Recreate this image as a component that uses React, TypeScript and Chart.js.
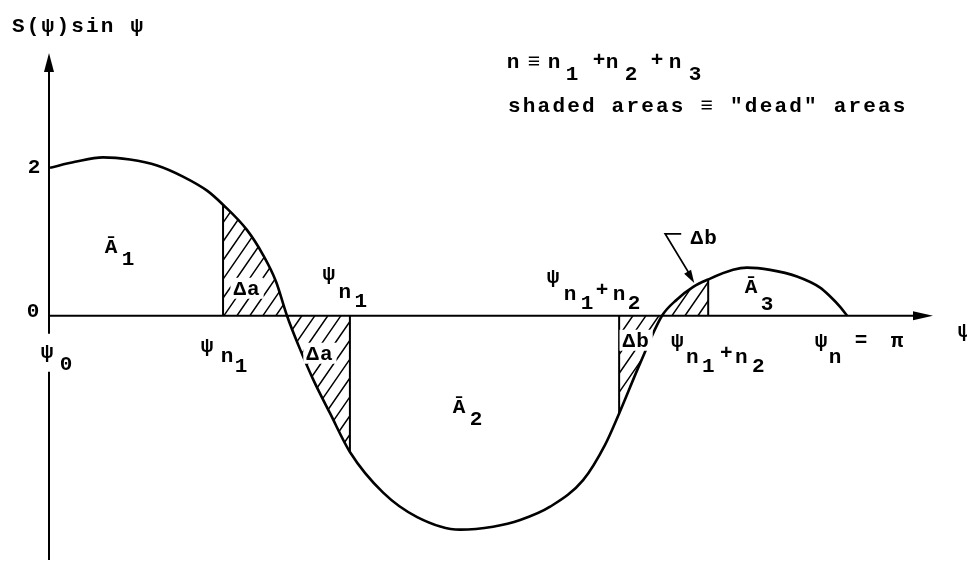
import { useEffect, useRef } from "react";
import { Chart, registerables } from "chart.js";

Chart.register(...registerables);

// Curve samples: ψ (rad) and S(ψ)·sin ψ
const PSI: number[] = [
  0, 0.099, 0.209, 0.315, 0.422, 0.524, 0.619, 0.682, 0.776, 0.84, 0.891,
  0.934, 0.978, 1.037, 1.104, 1.182, 1.313, 1.447, 1.616, 1.746, 1.853, 1.971,
  2.101, 2.188, 2.243, 2.326, 2.412, 2.471, 2.535, 2.594, 2.692, 2.747, 2.838,
  2.944, 3.035, 3.075, 3.114, 3.1416,
];
const S_SIN: number[] = [
  2.0, 2.08, 2.14, 2.11, 2.03, 1.88, 1.69, 1.5, 1.16, 0.82, 0.46,
  0.0, -0.39, -0.86, -1.32, -1.84, -2.39, -2.72, -2.89, -2.85, -2.76, -2.58,
  -2.22, -1.74, -1.32, -0.64, 0.0, 0.22, 0.39, 0.49, 0.62, 0.65, 0.62,
  0.53, 0.38, 0.26, 0.12, 0.0,
];

// Boundaries of the shaded "dead" areas
const PSI_N1_LOW = 0.682; // ψ_{n1}
const PSI_N1_HIGH = 1.182;
const PSI_N12_LOW = 2.243;
const PSI_N12_HIGH = 2.594; // ψ_{n1+n2}
const PSI_END = 3.1416; // ψ_n = π
const PSI_ARROW = 2.535; // where the Δb leader touches the curve
const DEAD_ZONES: [number, number][] = [
  [PSI_N1_LOW, PSI_N1_HIGH],
  [PSI_N12_LOW, PSI_N12_HIGH],
];
const EDGES = [PSI_N1_LOW, PSI_N1_HIGH, PSI_N12_LOW, PSI_N12_HIGH];
const Y_TICKS = ["0", "2"];

// Axis extents
const X_AXIS_END = 3.48;
const Y_MAX = 3.55;
const Y_MIN = -3.3;

const FONT = 'bold 21px "Liberation Mono", "DejaVu Sans Mono", monospace';
const SPACING = "2.2px";
const HATCH_STEP = 13;
const HATCH_SLOPE = 1.45;

const valueAt = (psi: number) => S_SIN[PSI.indexOf(psi)];

type Piece = [string, number, number];

function pieces(ctx: CanvasRenderingContext2D, ax: number, ay: number, list: Piece[]) {
  ctx.textAlign = "center";
  ctx.textBaseline = "alphabetic";
  for (const [t, dx, dy] of list) ctx.fillText(t, ax + dx, ay + dy);
}

// text drawn on a white patch so hatching stops around it
function boxed(ctx: CanvasRenderingContext2D, t: string, cx: number, base: number) {
  const w = ctx.measureText(t).width;
  ctx.save();
  ctx.fillStyle = "#fff";
  ctx.fillRect(cx - w / 2 - 3, base - 17, w + 6, 21);
  ctx.restore();
  ctx.textAlign = "center";
  ctx.textBaseline = "alphabetic";
  ctx.fillText(t, cx, base);
}

function arrowHead(
  ctx: CanvasRenderingContext2D,
  tx: number,
  ty: number,
  dx: number,
  dy: number,
  len: number,
  half: number
) {
  const n = Math.hypot(dx, dy);
  const ux = dx / n;
  const uy = dy / n;
  const bx = tx - ux * len;
  const by = ty - uy * len;
  ctx.beginPath();
  ctx.moveTo(tx, ty);
  ctx.lineTo(bx - uy * half, by + ux * half);
  ctx.lineTo(bx + uy * half, by - ux * half);
  ctx.closePath();
  ctx.fill();
}

const diagramPlugin = {
  id: "diagram",
  afterDatasetsDraw(chart: any) {
    const { ctx, chartArea } = chart;
    const xs = chart.scales.x;
    const ys = chart.scales.y;
    const meta = chart.getDatasetMeta(0);
    meta.dataset.updateControlPoints(chartArea, "x");
    const pts = meta.data as any[];
    const x0 = xs.getPixelForValue(0);
    const y0 = ys.getPixelForValue(0);
    const xp = (v: number) => xs.getPixelForValue(v);

    // hatching of the dead areas, clipped to curve and ψ axis
    for (const [a, b] of DEAD_ZONES) {
      const ia = PSI.indexOf(a);
      const ib = PSI.indexOf(b);
      ctx.save();
      ctx.beginPath();
      ctx.moveTo(pts[ia].x, pts[ia].y);
      for (let i = ia + 1; i <= ib; i++) {
        const p = pts[i - 1];
        const q = pts[i];
        ctx.bezierCurveTo(p.cp2x ?? p.x, p.cp2y ?? p.y, q.cp1x ?? q.x, q.cp1y ?? q.y, q.x, q.y);
      }
      ctx.lineTo(pts[ib].x, y0);
      ctx.lineTo(pts[ia].x, y0);
      ctx.closePath();
      ctx.clip();
      const top = chartArea.top;
      const bottom = chartArea.bottom;
      const run = (bottom - top) / HATCH_SLOPE;
      ctx.beginPath();
      for (let x = pts[ia].x - run; x <= pts[ib].x + run; x += HATCH_STEP) {
        ctx.moveTo(x, bottom);
        ctx.lineTo(x + run, top);
      }
      ctx.lineWidth = 1.5;
      ctx.strokeStyle = "#000";
      ctx.stroke();
      ctx.restore();
    }

    ctx.save();
    ctx.strokeStyle = "#000";
    ctx.fillStyle = "#000";
    ctx.lineWidth = 2;

    // vertical axis with arrow
    ctx.beginPath();
    ctx.moveTo(x0 - 1, chartArea.bottom);
    ctx.lineTo(x0 - 1, chartArea.top + 12);
    ctx.stroke();
    arrowHead(ctx, x0 - 1, chartArea.top, 0, -1, 19, 5);

    // horizontal ψ axis with arrow
    const xEnd = xp(X_AXIS_END);
    ctx.beginPath();
    ctx.moveTo(x0 - 1, y0);
    ctx.lineTo(xEnd - 12, y0);
    ctx.stroke();
    arrowHead(ctx, xEnd, y0, 1, 0, 20, 4.5);

    // gap in the vertical axis behind ψ0
    ctx.fillStyle = "#fff";
    ctx.fillRect(x0 - 7, y0 + 18, 12, 38);
    ctx.fillStyle = "#000";

    ctx.font = FONT;

    // axis title
    ctx.letterSpacing = SPACING;
    ctx.textAlign = "left";
    ctx.textBaseline = "alphabetic";
    ctx.fillText("S(ψ)sin ψ", x0 - 38, chartArea.top - 21);

    // definitions
    const nx = x0 + 458;
    const ny = chartArea.top + 15;
    ctx.fillText('shaded areas ≡ "dead" areas', nx, chartArea.top + 59);
    ctx.letterSpacing = "0px";
    pieces(ctx, nx, ny, [
      ["n", 5, 0],
      ["≡", 26, 0],
      ["n", 46, 0],
      ["1", 64, 12],
      ["+", 91, -2],
      ["n", 104, 0],
      ["2", 123, 12],
      ["+", 149, -2],
      ["n", 167, 0],
      ["3", 187, 12],
    ]);

    // tick labels
    ctx.textBaseline = "middle";
    ctx.textAlign = "center";
    ctx.fillText(Y_TICKS[1], x0 - 16, ys.getPixelForValue(2));
    ctx.fillText(Y_TICKS[0], x0 - 17, y0 - 4);

    // ψ0
    pieces(ctx, x0, y0, [
      ["ψ", -3, 42],
      ["0", 16, 54],
    ]);

    // ψn1 below the axis
    pieces(ctx, xp(PSI_N1_LOW), y0, [
      ["ψ", -16, 36],
      ["n", 4, 46],
      ["1", 18, 56],
    ]);
    // ψn1 above the axis
    pieces(ctx, xp(PSI_N1_HIGH), y0, [
      ["ψ", -21, -36],
      ["n", -5, -18],
      ["1", 11, -9],
    ]);

    // Δa / Δb labels inside the hatching
    ctx.letterSpacing = "1px";
    boxed(ctx, "Δa", xp(PSI_N1_LOW) + 24, y0 - 21);
    boxed(ctx, "Δa", xp(PSI_N1_HIGH) - 30, y0 + 44);
    boxed(ctx, "Δb", xp(PSI_N12_LOW) + 17, y0 + 31);
    ctx.letterSpacing = "0px";

    // Ā areas
    pieces(ctx, x0, y0, [
      ["Ā", 61, -63],
      ["1", 78, -51],
      ["Ā", 409, 97],
      ["2", 426, 109],
      ["Ā", 701, -23],
      ["3", 717, -6],
    ]);

    // ψ_{n1+n2} above and below the axis
    pieces(ctx, xp(PSI_N12_LOW), y0, [
      ["ψ", -66, -33],
      ["n", -49, -16],
      ["1", -32, -7],
      ["+", -17, -20],
      ["n", 0, -16],
      ["2", 15, -7],
    ]);
    pieces(ctx, xp(PSI_N12_HIGH), y0, [
      ["ψ", -31, 31],
      ["n", -16, 47],
      ["1", 0, 56],
      ["+", 18, 43],
      ["n", 33, 47],
      ["2", 50, 56],
    ]);

    // ψn = π
    pieces(ctx, xp(PSI_END), y0, [
      ["ψ", -26, 31],
      ["n", -12, 47],
      ["=", 14, 30],
      ["π", 50, 31],
    ]);

    // ψ axis name
    pieces(ctx, xEnd, y0, [["ψ", 31, 21]]);

    // Δb leader arrow
    const target = pts[PSI.indexOf(PSI_ARROW)];
    const tx = target.x + 1;
    const ty = target.y - 4;
    const sx = tx - 29;
    const sy = ty - 49;
    ctx.lineWidth = 1.8;
    ctx.beginPath();
    ctx.moveTo(sx + 16, sy);
    ctx.lineTo(sx, sy);
    ctx.lineTo(tx - 3, ty - 6);
    ctx.stroke();
    arrowHead(ctx, tx, ty, 29, 49, 13, 4);
    ctx.letterSpacing = "1px";
    pieces(ctx, sx, sy, [["Δb", 39, 10]]);
    ctx.restore();
  },
};

export default function App() {
  const canvasRef = useRef<HTMLCanvasElement | null>(null);

  useEffect(() => {
    const canvas = canvasRef.current;
    if (!canvas) return;

    const curve = PSI.map((x, i) => ({ x, y: S_SIN[i] }));
    const edgeSets = EDGES.map((psi) => ({
      data: [
        { x: psi, y: 0 },
        { x: psi, y: valueAt(psi) },
      ],
      borderColor: "#000",
      borderWidth: 2,
      pointRadius: 0,
      tension: 0,
      fill: false,
    }));

    const chart = new Chart(canvas, {
      type: "line",
      data: {
        datasets: [
          {
            data: curve,
            borderColor: "#000",
            borderWidth: 2.6,
            pointRadius: 0,
            cubicInterpolationMode: "monotone",
            fill: false,
          },
          ...edgeSets,
        ] as any,
      },
      options: {
        responsive: false,
        animation: false,
        devicePixelRatio: 1,
        events: [],
        layout: {
          autoPadding: false,
          padding: { left: 50, right: 34, top: 53, bottom: 2 },
        },
        scales: {
          x: { type: "linear", min: 0, max: X_AXIS_END, display: false },
          y: { type: "linear", min: Y_MIN, max: Y_MAX, display: false },
        },
        plugins: {
          legend: { display: false },
          tooltip: { enabled: false },
        },
      },
      plugins: [diagramPlugin],
    });

    return () => chart.destroy();
  }, []);

  return (
    <div
      style={{
        position: "fixed",
        left: 0,
        top: 0,
        width: 967,
        height: 562,
        background: "#fff",
      }}
    >
      <canvas ref={canvasRef} width={967} height={562} style={{ display: "block" }} />
    </div>
  );
}
